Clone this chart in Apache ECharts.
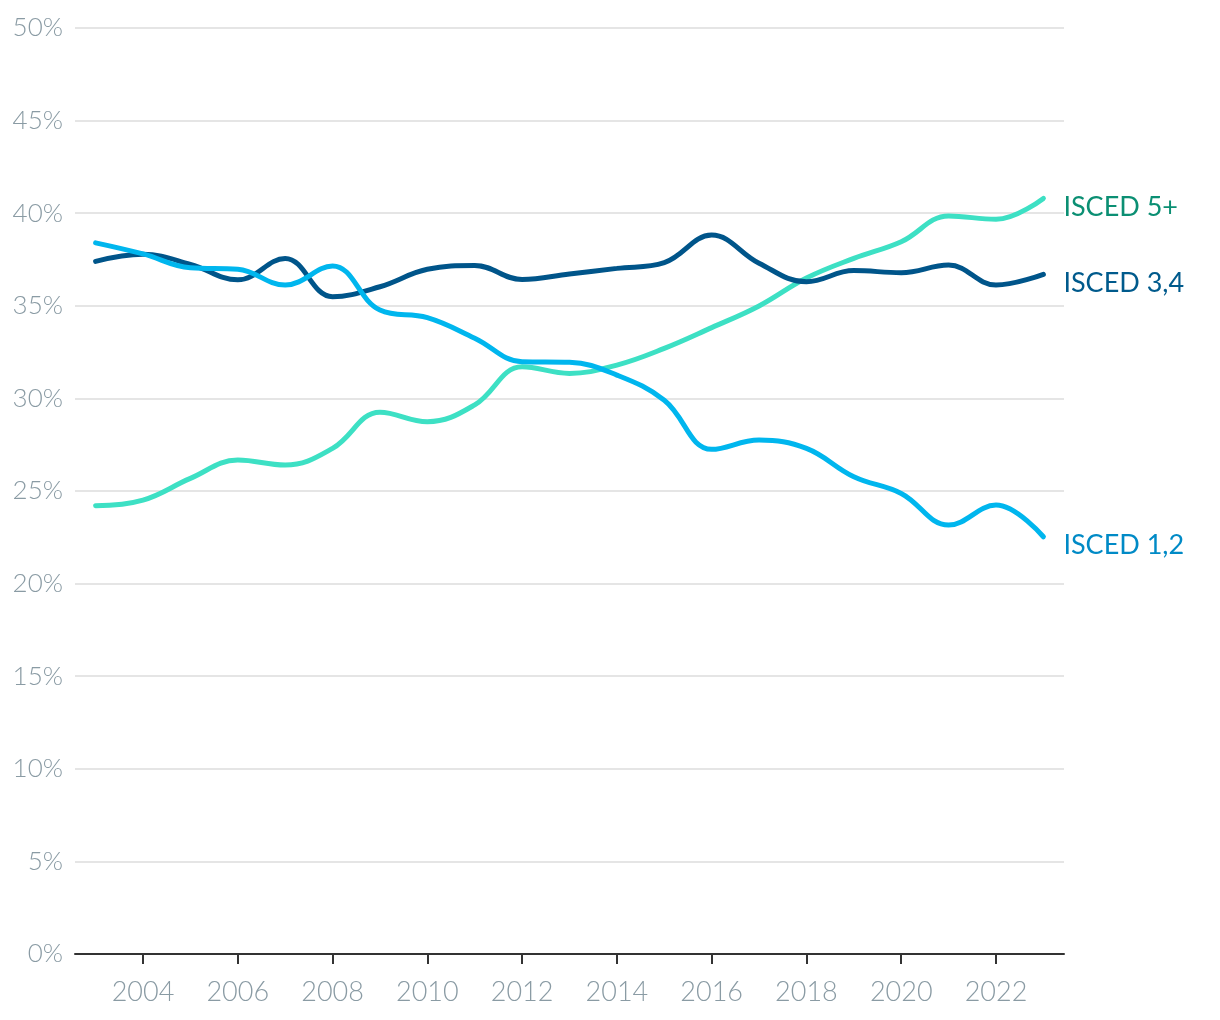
<!DOCTYPE html>
<html>
<head>
<meta charset="utf-8">
<script src="https://cdn.jsdelivr.net/npm/echarts@6/dist/echarts.min.js"></script>
<style>
html,body{margin:0;padding:0;background:#fff;}
#chart{width:1220px;height:1020px;}
</style>
</head>
<body>
<div id="chart"></div>
<script>
var years = [2003,2004,2005,2006,2007,2008,2009,2010,2011,2012,2013,2014,2015,2016,2017,2018,2019,2020,2021,2022,2023];
var xTickYears = [2004,2006,2008,2010,2012,2014,2016,2018,2020,2022];
var isced12 = [38.4,37.8,37.05,36.97,36.12,37.15,34.77,34.36,33.25,31.98,31.95,31.26,29.9,27.25,27.75,27.3,25.77,24.87,23.16,24.24,22.53];
var isced34 = [37.4,37.78,37.24,36.4,37.56,35.49,36.03,36.97,37.18,36.42,36.72,37.02,37.33,38.82,37.3,36.3,36.9,36.79,37.2,36.12,36.7];
var isced5 = [24.2,24.51,25.68,26.67,26.4,27.3,29.25,28.74,29.65,31.71,31.35,31.8,32.7,33.82,34.99,36.5,37.56,38.46,39.85,39.67,40.8];
var seriesNames = ['ISCED 5+','ISCED 3,4','ISCED 1,2'];

function pairs(vals){ return years.map(function(y,i){ return [y, vals[i]]; }); }

var chart = echarts.init(document.getElementById('chart'), null, {renderer:'canvas'});
var font = 'Lato';
function mk(name, vals, lineColor, labelColor){
  return {
    name: name, type: 'line', data: pairs(vals), smooth: 0.4,
    showSymbol: false, symbol: 'none',
    lineStyle: {width: 5, color: lineColor, cap: 'round'},
    itemStyle: {color: lineColor},
    endLabel: {show: true, formatter: name, color: labelColor, fontFamily: font, fontSize: 27, fontWeight: 400, distance: 20, offset: [0, 9]},
    emphasis: {disabled: true},
    z: 3
  };
}
chart.setOption({
  animation: false,
  grid: {left: 75, right: 156, top: 28, bottom: 66, containLabel: false},
  xAxis: {
    type: 'value', min: 2002.565, max: 2023.435,
    axisLine: {show: true, lineStyle: {color: '#333', width: 2}},
    axisTick: {show: true, length: 10, lineStyle: {color: '#333', width: 2}, customValues: xTickYears},
    axisLabel: {show: true, customValues: xTickYears, color: '#8a9ba4', fontFamily: font, fontWeight: 300, fontSize: 27, margin: 25, formatter: function(v){return String(v);}},
    splitLine: {show: false}
  },
  yAxis: {
    type: 'value', min: 0, max: 50, interval: 5,
    axisLine: {show: false}, axisTick: {show: false},
    axisLabel: {color: '#8a9ba4', fontFamily: font, fontWeight: 300, fontSize: 26, margin: 12, formatter: '{value}%'},
    splitLine: {show: true, lineStyle: {color: '#e5e5e5', width: 2}}
  },
  series: [
    mk(seriesNames[0], isced5, '#3de0c4', '#0b8f73'),
    mk(seriesNames[1], isced34, '#00558a', '#005a8c'),
    mk(seriesNames[2], isced12, '#00b6ee', '#008ac6')
  ]
});
</script>
</body>
</html>
